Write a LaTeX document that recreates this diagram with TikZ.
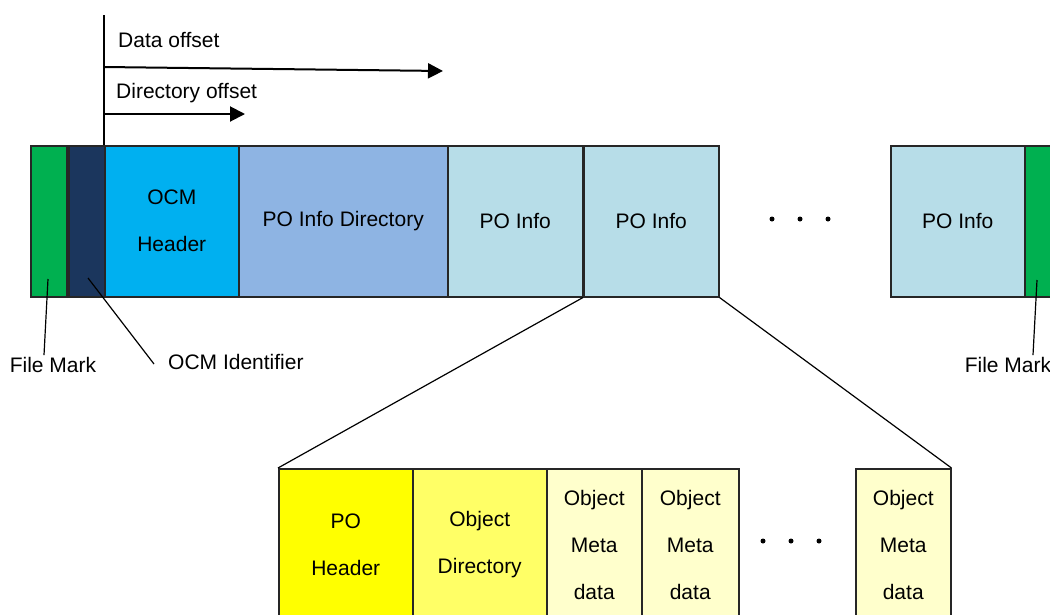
\documentclass[tikz,border=0pt]{standalone}
\usepackage{fontspec}
\setmainfont{Liberation Sans}
\usetikzlibrary{arrows.meta,positioning}
\definecolor{markgreen}{HTML}{00B050}
\definecolor{idnavy}{HTML}{1B365D}
\definecolor{hdrblue}{HTML}{00B0F0}
\definecolor{dirblue}{HTML}{8EB4E3}
\definecolor{infoblue}{HTML}{B7DDE8}
\definecolor{poyellow}{HTML}{FFFF00}
\definecolor{objyellow}{HTML}{FFFF66}
\definecolor{metayellow}{HTML}{FFFFCC}
\tikzset
{
    segment/.style    = {draw=black!85, line width=1.5pt, align=center, anchor=north west, minimum height=151pt, inner sep=0pt, font=\fontsize{21}{47}\selectfont},
    subsegment/.style = {segment, minimum height=152pt},
    annot/.style      = {font=\fontsize{21}{25}\selectfont, inner sep=2pt},
    offset/.style     = {-{Triangle[length=15pt,width=15pt]}, line width=2pt},
    pointer/.style    = {line width=1.2pt}
}

\begin{document}
\begin{tikzpicture}[x=1pt, y=-1pt]
\clip (0,0) rectangle (1050,614);

%% container row
\node (fm1)		[segment, fill=markgreen, minimum width=36pt]	at (30,145)		{};
\node (oid)		[segment, fill=idnavy, minimum width=36pt]		at (68,145)		{};
\node (hdr)		[segment, fill=hdrblue, minimum width=134pt]	at (104,145)	{OCM \\ Header};
\node (dir)		[segment, fill=dirblue, minimum width=209pt]	at (238,145)	{PO Info Directory};
\node (poi1)	[segment, fill=infoblue, minimum width=135pt]	at (447,145)	{PO Info};
\node (poi2)	[segment, fill=infoblue, minimum width=135pt]	at (583,145)	{PO Info};
\node (poi3)	[segment, fill=infoblue, minimum width=134pt]	at (890,145)	{PO Info};
\node (fm2)		[segment, fill=markgreen, minimum width=40pt]	at (1024,145)	{};
\foreach \x in {772,800,828}
	\fill (\x,219) circle (2.5pt);

%% offsets
\coordinate (origin)	at (104,15);
\coordinate (dstart)	at (104,67);
\coordinate (dend)		at (443,71);
\coordinate (rstart)	at (104,114);
\coordinate (rend)		at (245,114);
\node (dlbl)	[annot, anchor=west]	at (116,40)		{Data offset};
\node (rlbl)	[annot, anchor=west]	at (114,93)		{Directory offset};
\draw[line width=2pt] (origin) -- (hdr.north west);
\draw[offset] (dstart) -- (dend);
\draw[offset] (rstart) -- (rend);

%% labels
\node (lfm1)	[annot]					at (53,365)		{File Mark};
\node (lid)		[annot, anchor=west]	at (166,362)	{OCM Identifier};
\node (lfm2)	[annot]					at (1008,365)	{File Mark};
\coordinate (pfm1)	at (48,279);
\coordinate (pid)	at (88,278);
\coordinate (pfm2)	at (1037,280);
\draw[pointer] (pfm1) -- ([xshift=-9pt]lfm1.north);
\draw[pointer] (pid) -- ([xshift=-12pt,yshift=-2pt]lid.west);
\draw[pointer] (pfm2) -- ([xshift=25pt]lfm2.north);

%% PO Info detail
\node (ph)		[subsegment, fill=poyellow, minimum width=134pt]	at (278,468)	{PO \\ Header};
\node (od)		[subsegment, fill=objyellow, minimum width=134pt]	at (412,468)	{Object \\ Directory};
\node (md1)		[subsegment, fill=metayellow, minimum width=95pt]	at (546,468)	{Object \\ Meta \\ data};
\node (md2)		[subsegment, fill=metayellow, minimum width=97pt]	at (641,468)	{Object \\ Meta \\ data};
\node (md3)		[subsegment, fill=metayellow, minimum width=95pt]	at (855,468)	{Object \\ Meta \\ data};
\foreach \x in {763,791,819}
	\fill (\x,541) circle (2.5pt);
\draw[pointer] (poi2.south west) -- (ph.north west);
\draw[pointer] (poi2.south east) -- (md3.north east);
\end{tikzpicture}
\end{document}
